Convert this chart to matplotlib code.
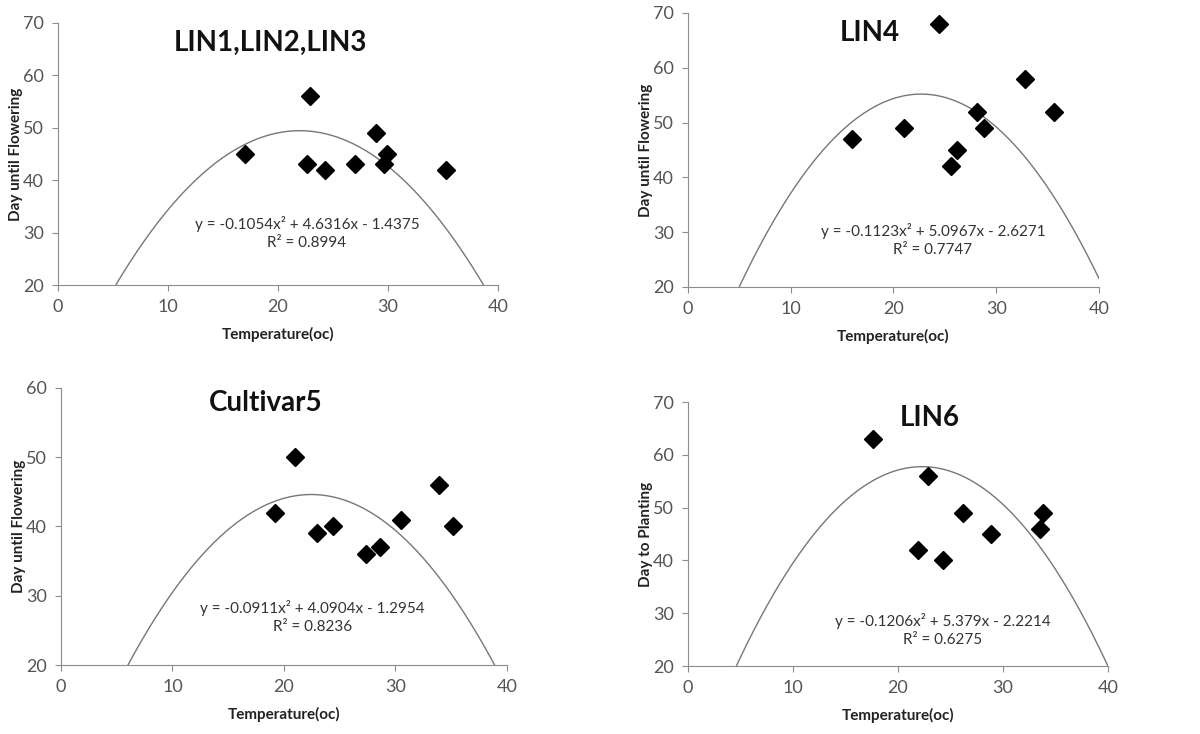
import numpy as np
import matplotlib
matplotlib.use("Agg")
import matplotlib.pyplot as plt

plt.rcParams["font.family"] = ["Lato", "DejaVu Sans"]

# panel data
lin123_temp = [17.0, 22.9, 22.6, 24.3, 27.0, 28.9, 29.6, 29.9, 35.3]
lin123_days = [45, 56, 43, 42, 43, 49, 43, 45, 42]
lin123_coef = [-0.1054, 4.6316, -1.4375]

lin4_temp = [16.0, 21.0, 24.4, 25.6, 26.2, 28.1, 28.8, 32.8, 35.6]
lin4_days = [47, 49, 68, 42, 45, 52, 49, 58, 52]
lin4_coef = [-0.1123, 5.0967, -2.6271]

cult5_temp = [19.2, 21.0, 23.0, 24.4, 27.4, 28.6, 30.5, 33.9, 35.2]
cult5_days = [42, 50, 39, 40, 36, 37, 41, 46, 40]
cult5_coef = [-0.0911, 4.0904, -1.2954]

lin6_temp = [17.6, 21.9, 22.9, 24.3, 26.2, 28.9, 33.5, 33.8]
lin6_days = [63, 42, 56, 40, 49, 45, 46, 49]
lin6_coef = [-0.1206, 5.379, -2.2214]

panels = [
	# title, temps, days, coef, ymax, ylabel, eq, r2, axes rect, title pos, eq pos
	("LIN1,LIN2,LIN3", lin123_temp, lin123_days, lin123_coef, 70, "Day until Flowering",
	 "y = -0.1054x² + 4.6316x - 1.4375", "R² = 0.8994",
	 [0.0483, 0.6117, 0.3667, 0.357], (0.482, 0.924), (0.566, 0.198)),
	("LIN4", lin4_temp, lin4_days, lin4_coef, 70, "Day until Flowering",
	 "y = -0.1123x² + 5.0967x - 2.6271", "R² = 0.7747",
	 [0.5733, 0.609, 0.3425, 0.3733], (0.443, 0.927), (0.596, 0.172)),
	("Cultivar5", cult5_temp, cult5_days, cult5_coef, 60, "Day until Flowering",
	 "y = -0.0911x² + 4.0904x - 1.2954", "R² = 0.8236",
	 [0.0508, 0.094, 0.3717, 0.3774], (0.46, 0.946), (0.563, 0.173)),
	("LIN6", lin6_temp, lin6_days, lin6_coef, 70, "Day to Planting",
	 "y = -0.1206x² + 5.379x - 2.2214", "R² = 0.6275",
	 [0.5733, 0.0926, 0.35, 0.3597], (0.576, 0.939), (0.607, 0.136)),
]

fig = plt.figure(figsize=(12, 7.34), dpi=100)

for title, temps, days, coef, ymax, ylabel, eq, r2, rect, tpos, epos in panels:
	ax = fig.add_axes(rect)
	xs = np.linspace(0, 40, 400)
	ax.plot(xs, np.polyval(coef, xs), color="#777777", lw=1.0)
	ax.plot(temps, days, "D", color="black", ms=9.5, clip_on=False)

	ax.set_xlim(0, 40)
	ax.set_ylim(20, ymax)
	ax.set_xticks([0, 10, 20, 30, 40])
	ax.set_yticks(range(20, ymax + 1, 10))
	for side in ["top", "right"]:
		ax.spines[side].set_visible(False)
	for side in ["left", "bottom"]:
		ax.spines[side].set_color("#8c8c8c")
	ax.tick_params(colors="#8c8c8c", labelcolor="#555555", labelsize=13, length=4, pad=6)

	ax.set_xlabel("Temperature(oc)", fontsize=11, fontweight="bold", color="#222222", labelpad=9)
	ax.set_ylabel(ylabel, fontsize=11, fontweight="bold", color="#222222", labelpad=0)

	ax.text(tpos[0], tpos[1], title, transform=ax.transAxes, ha="center", va="center",
	        fontsize=20, fontweight="bold", color="#111111")
	ax.text(epos[0], epos[1], eq + "\n" + r2, transform=ax.transAxes, ha="center", va="center",
	        fontsize=11, color="#333333", linespacing=1.3)

fig.savefig("out.png", dpi=100)
